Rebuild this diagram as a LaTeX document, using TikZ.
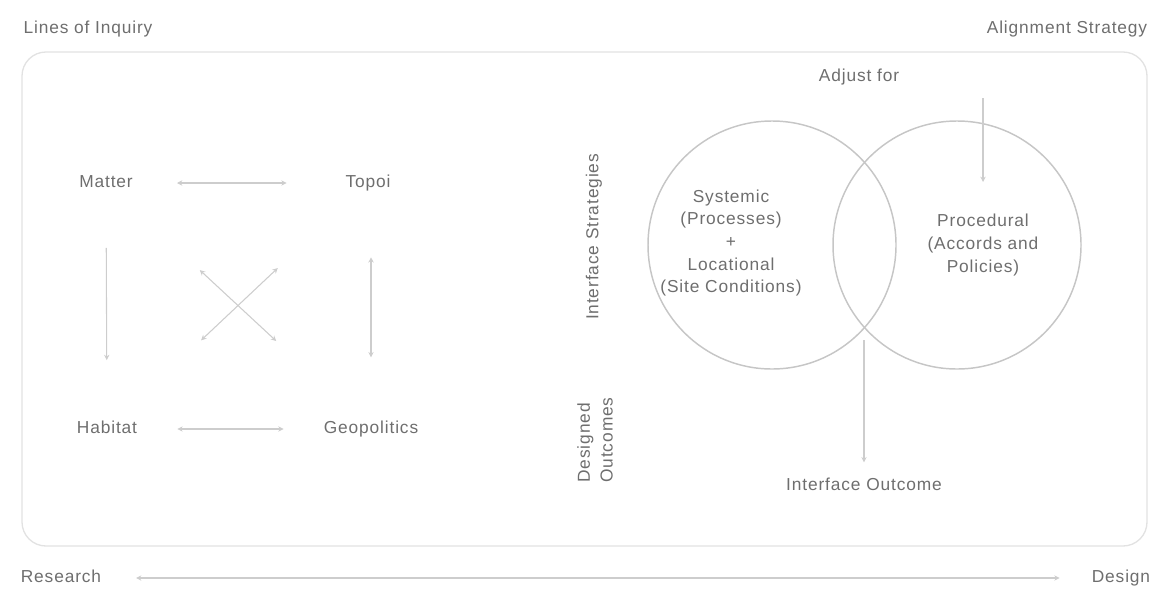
\documentclass[tikz,border=0pt]{standalone}
\usepackage{fontspec}
\setmainfont{Liberation Sans}[LetterSpace=5]
\usepackage{xcolor}
\definecolor{inkgray}{HTML}{6E6E6E}
\definecolor{linegray}{HTML}{CDCDCD}
\definecolor{ringgray}{HTML}{C6C6C6}
\definecolor{framegray}{HTML}{E2E2E2}
\usetikzlibrary{arrows.meta}

\begin{document}
\begin{tikzpicture}[
  x=0.75pt,y=-0.75pt,
  lbl/.style={text=inkgray,font=\fontsize{13}{17}\selectfont,inner sep=2pt},
  tag/.style={lbl,text height=10pt,text depth=3pt},
  ring/.style={circle,draw=ringgray,line width=1.1pt,minimum size=186pt,inner sep=0pt},
  arrow/.style={-{Stealth[length=4pt,width=4pt]},draw=linegray,line width=0.8pt},
  twoway/.style={{Stealth[length=4pt,width=4pt]}-{Stealth[length=4pt,width=4pt]},draw=linegray,line width=0.8pt}
]
\useasboundingbox (0,0) rectangle (1155,589);
\draw[framegray,line width=1pt,rounded corners=18pt] (22,52) rectangle (1147,546);

% headings
\node[tag] (inquiry) at (88,29) {Lines of Inquiry};
\node[tag] (alignment) at (1067,29) {Alignment Strategy};

% lines of inquiry
\node[tag] (matter) at (106,183) {Matter};
\node[tag] (topoi) at (368,183) {Topoi};
\node[tag] (habitat) at (107,429) {Habitat};
\node[tag] (geo) at (371,429) {Geopolitics};
\draw[twoway,shorten <=31pt,shorten >=42pt] (matter) -- (topoi);
\draw[twoway,shorten <=28pt,shorten >=28pt] (habitat) -- (geo);
\draw[arrow,shorten <=40pt,shorten >=43pt] (matter) -- (habitat);
\draw[twoway,shorten <=47pt,shorten >=45pt] (geo.north |- topoi.south) -- (geo.north);
\draw[twoway,shorten <=96pt,shorten >=97pt] (matter.center) -- (geo.center);
\draw[twoway,shorten <=93pt,shorten >=97pt] (topoi.center) -- (habitat.center);

% alignment strategy
\node[lbl,rotate=90] (strat) at (594,237) {Interface Strategies};
\node[lbl,rotate=90,align=left] (designed) at (595,440) {Designed\\Outcomes};
\node[ring] (sys) at (772,245) {};
\node[ring] (proc) at (957,245) {};
\node[lbl,align=center] (systext) at (731,243) {Systemic\\(Processes)\\+\\Locational\\(Site Conditions)};
\node[lbl,align=center] (proctext) at (983,245) {Procedural\\(Accords and\\Policies)};
\node[tag] (adjust) at (859,77) {Adjust for};
\node[tag] (outcome) at (864,486) {Interface Outcome};
\coordinate (adjtop) at (983,98);
\coordinate (meet) at (864,340);
\draw[arrow,shorten >=22pt] (adjtop) -- (adjtop |- proctext.north);
\draw[arrow,shorten >=9pt] (meet) -- (meet |- outcome.north);

% research to design
\node[tag] (research) at (61,578) {Research};
\node[tag] (design) at (1121,578) {Design};
\draw[twoway,shorten <=24pt,shorten >=22pt] (research) -- (design);
\end{tikzpicture}
\end{document}
